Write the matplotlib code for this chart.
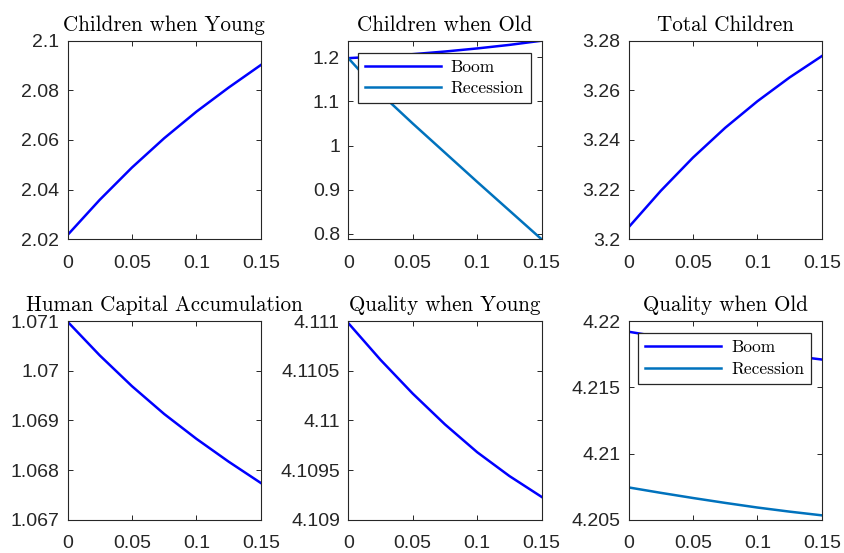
import matplotlib
matplotlib.use("Agg")
import matplotlib.pyplot as plt
from matplotlib.ticker import FuncFormatter

## DATA
x = [0, 0.025, 0.05, 0.075, 0.1, 0.125, 0.15]

youngKids = [2.0217, 2.0359, 2.0489, 2.0607, 2.0714, 2.0811, 2.0902]
oldKidsBoom = [1.198, 1.202, 1.207, 1.213, 1.220, 1.228, 1.2375]
oldKidsRec = [1.198, 1.118, 1.050, 0.984, 0.918, 0.853, 0.788]
totalKids = [3.2048, 3.2195, 3.2329, 3.2449, 3.2556, 3.2652, 3.2738]
humanCap = [1.07099, 1.07031, 1.06969, 1.06913, 1.06863, 1.06817, 1.06774]
qualYoung = [4.11098, 4.11061, 4.11027, 4.10996, 4.10968, 4.10944, 4.10923]
qualOldBoom = [4.2192, 4.2188, 4.2185, 4.2181, 4.2178, 4.2174, 4.2171]
qualOldRec = [4.20744, 4.20703, 4.20664, 4.20627, 4.20592, 4.20561, 4.20533]

titles = ["Children when Young", "Children when Old", "Total Children",
          "Human Capital Accumulation", "Quality when Young", "Quality when Old"]
yLimits = [(2.02, 2.1), (0.788, 1.2375), (3.2, 3.28),
           (1.067, 1.071), (4.109, 4.111), (4.205, 4.22)]
yTicks = [[2.02, 2.04, 2.06, 2.08, 2.1],
          [0.8, 0.9, 1.0, 1.1, 1.2],
          [3.2, 3.22, 3.24, 3.26, 3.28],
          [1.067, 1.068, 1.069, 1.07, 1.071],
          [4.109, 4.1095, 4.11, 4.1105, 4.111],
          [4.205, 4.21, 4.215, 4.22]]
xTicks = [0, 0.05, 0.1, 0.15]

BOOM = (0, 0, 1)
RECESSION = (0, 0.447, 0.741)
DARK = "#262626"

plt.rcParams["font.family"] = ["Liberation Sans", "DejaVu Sans"]

fig = plt.figure(figsize=(8.44, 5.53), dpi=100)

lefts = [0.080, 0.4127, 0.7447]
bottoms = [0.5673, 0.0602]
axList = []
for r in range(2):
    for c in range(3):
        ax = fig.add_axes([lefts[c], bottoms[r], 0.229, 0.3591])
        axList.append(ax)

series = [[youngKids], [oldKidsBoom, oldKidsRec], [totalKids],
          [humanCap], [qualYoung], [qualOldBoom, qualOldRec]]

for i, ax in enumerate(axList):
    ys = series[i]
    if len(ys) == 1:
        ax.plot(x, ys[0], color=BOOM, lw=1.8)
    else:
        ax.plot(x, ys[0], color=BOOM, lw=1.8, label="Boom")
        ax.plot(x, ys[1], color=RECESSION, lw=1.8, label="Recession")
        leg = ax.legend(loc="upper right", bbox_to_anchor=(0.944, 0.94),
                        prop={"family": "cmr10", "size": 12.5},
                        handlelength=4.4, handletextpad=0.55,
                        borderpad=0.4, labelspacing=0.35,
                        fancybox=False, framealpha=1, borderaxespad=0)
        leg.get_frame().set_edgecolor(DARK)
        leg.get_frame().set_linewidth(0.9)
    ax.set_xlim(0, 0.15)
    ax.set_ylim(*yLimits[i])
    ax.set_xticks(xTicks)
    ax.set_yticks(yTicks[i])
    ax.xaxis.set_major_formatter(FuncFormatter(lambda v, p: "%g" % round(v, 6)))
    ax.yaxis.set_major_formatter(FuncFormatter(lambda v, p: "%g" % round(v, 6)))
    ax.tick_params(direction="in", top=True, right=True, length=3.5,
                   width=0.7, color=DARK, labelcolor=DARK, labelsize=14)
    ax.tick_params(axis="x", pad=11)
    ax.tick_params(axis="y", pad=6)
    for s in ax.spines.values():
        s.set_color(DARK)
        s.set_linewidth(0.8)
    ax.set_title(titles[i], fontfamily="cmr10", fontsize=15.2, pad=7)

fig.savefig("out.png", dpi=100)
